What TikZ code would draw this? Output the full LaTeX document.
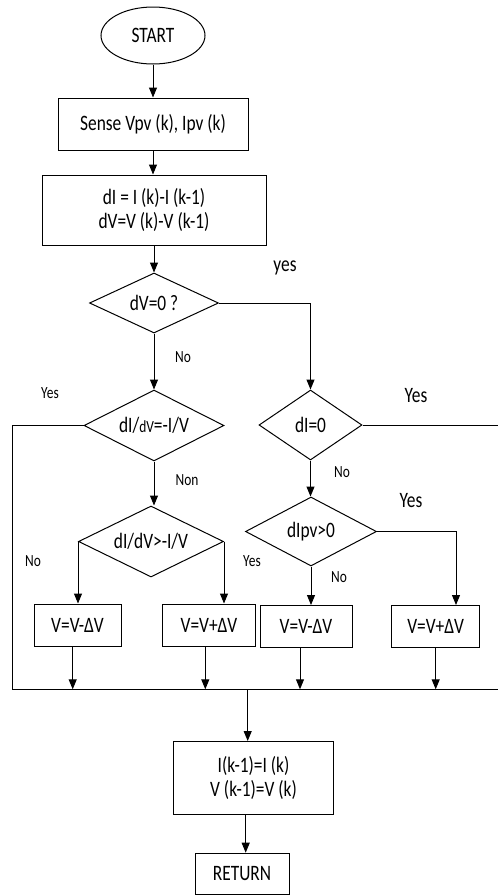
\documentclass[tikz,border=0pt]{standalone}
\usepackage{fontspec}
\setmainfont{Carlito}[FakeStretch=0.79]
\usetikzlibrary{shapes.geometric,arrows.meta}
\begin{document}
\begin{tikzpicture}[x=1pt,y=-1pt,line width=1pt,
  every node/.style={font=\fontsize{22}{24}\selectfont},
  box/.style={draw,rectangle,inner sep=0pt,align=center},
  dec/.style={draw,diamond,inner sep=0pt,aspect=2},
  lab/.style={font=\fontsize{17}{17}\selectfont},
  biglab/.style={font=\fontsize{22}{22}\selectfont},
  arr/.style={-{Triangle[length=10pt,width=8pt]}}]
\useasboundingbox (0,0) rectangle (498,895);
% nodes
\node[draw,ellipse,minimum width=104pt,minimum height=57pt,inner sep=0pt] (start) at (153,35.5) {START};
\node[box,minimum width=190pt,minimum height=52pt] (sense) at (153,124) {Sense Vpv (k), Ipv (k)};
\node[box,minimum width=224pt,minimum height=70pt] (calc) at (154,210) {dI = I (k)-I (k-1)\\dV=V (k)-V (k-1)};
\node[dec,minimum width=129pt,minimum height=60pt] (d1) at (154,303) {dV=0 ?};
\node[dec,minimum width=140pt,minimum height=71pt] (d2) at (154,425.5) {dI/{\fontsize{17}{17}\selectfont dV}=-I/V};
\node[dec,minimum width=103pt,minimum height=70pt] (d3) at (310.5,425) {dI=0};
\node[dec,minimum width=145pt,minimum height=71pt] (d4) at (151,541.5) {dI/dV>-I/V};
\node[dec,minimum width=131pt,minimum height=69pt] (d5) at (311,531.5) {dIpv>0};
\node[box,minimum width=87pt,minimum height=42pt] (b1) at (77.5,625) {V=V-ΔV};
\node[box,minimum width=93pt,minimum height=42pt] (b2) at (209,625) {V=V+ΔV};
\node[box,minimum width=92pt,minimum height=42pt] (b3) at (306,626.5) {V=V-ΔV};
\node[box,minimum width=88pt,minimum height=42pt] (b4) at (435.7,626.5) {V=V+ΔV};
\node[box,minimum width=160pt,minimum height=73pt] (upd) at (253.5,778) {I(k-1)=I (k)\\V (k-1)=V (k)};
\node[box,minimum width=94pt,minimum height=41pt] (ret) at (242,873.7) {RETURN};
% labels
\node[biglab] (lyes1) at (285,268) {yes};
\node[lab] (lno1) at (183,357) {No};
\node[lab] (lyes2) at (50,393) {Yes};
\node[biglab] (lyes3) at (416,396) {Yes};
\node[lab] (lnon) at (187,480) {Non};
\node[lab] (lno2) at (342,472) {No};
\node[biglab] (lyes4) at (411,501) {Yes};
\node[lab] (lno3) at (33,561) {No};
\node[lab] (lyes5) at (252,561) {Yes};
\node[lab] (lno4) at (339,577) {No};
% coordinates
\coordinate (busL) at (12.3,689.3);
\coordinate (busR) at (498,689.3);
\coordinate (edgeR) at (498,425);
\coordinate (busM) at (247.7,689.3);
% connectors
\draw[arr] (start.south) -- (start.south |- sense.north);
\draw[arr] (sense.south) -- (sense.south |- calc.north);
\draw[arr] (calc.south) -- (calc.south |- d1.north);
\draw[arr] (d1.east) -| (d3.north);
\draw[arr] (d1.south) -- (d2.north);
\draw (d2.west) -| (busL) -- (busR);
\draw (d3.east) -- (edgeR);
\draw[arr] (d2.south) -- (d2.south |- d4.north);
\draw[arr] (d3.south) -- (d3.south |- d5.north);
\draw[arr] (d4.west) -- (d4.west |- b1.north);
\draw[arr] (d4.east) -- (d4.east |- b2.north);
\draw[arr] (d5.south) -- (d5.south |- b3.north);
\draw[arr] (d5.east) -| ([xshift=20.3pt]b4.north);
\draw[arr] ([xshift=-4.8pt]b1.south) -- ([xshift=-4.8pt]b1.south |- busL);
\draw[arr] ([xshift=-3.7pt]b2.south) -- ([xshift=-3.7pt]b2.south |- busL);
\draw[arr] ([xshift=-6pt]b3.south) -- ([xshift=-6pt]b3.south |- busL);
\draw[arr] (b4.south) -- (b4.south |- busL);
\draw[arr] (busM) -- (busM |- upd.north);
\draw[arr] ([xshift=-7.8pt]upd.south) -- ([xshift=-7.8pt]upd.south |- ret.north);
\end{tikzpicture}
\end{document}
